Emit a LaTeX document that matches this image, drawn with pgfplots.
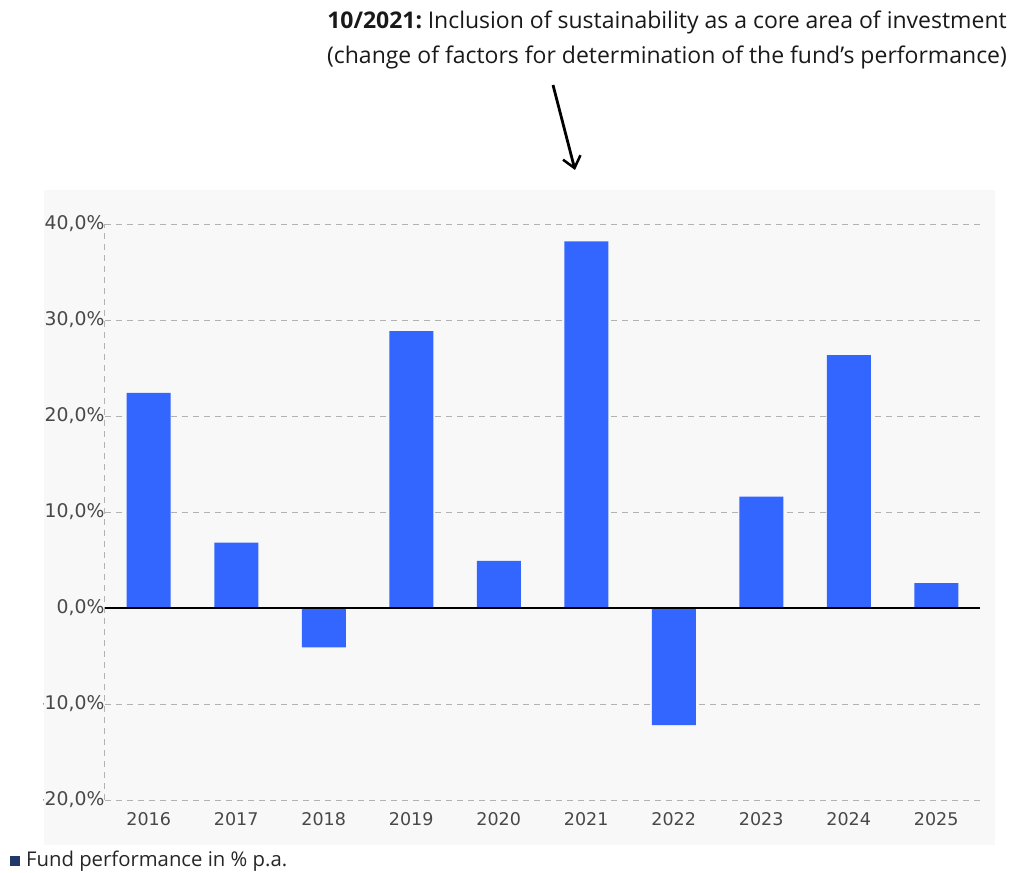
\documentclass[border=0pt]{standalone}
\usepackage{pgfplots}
\pgfplotsset{compat=1.18}
\usepackage{fontspec}
\setmainfont{Open Sans}
\newfontfamily\tickfont{DejaVu Sans}
\usetikzlibrary{arrows.meta}
\definecolor{barblue}{HTML}{3366FF}
\definecolor{bgc}{RGB}{248,248,248}
\definecolor{navy}{HTML}{1F3A68}
\definecolor{ticktext}{HTML}{484848}
\begin{document}
\begin{tikzpicture}[x=1pt,y=1pt]
\path[use as bounding box] (-105,-73) rectangle (910,800);
\fill[bgc] (-61,-45) rectangle (890,610);
\begin{scope}
\clip (-61,-45) rectangle (890,610);
\begin{axis}[
  at={(0,0)}, anchor=south west,
  scale only axis, width=875pt, height=576pt,
  xmin=-0.5, xmax=9.5, ymin=-20, ymax=40,
  ybar, bar width=44pt,
  axis line style={draw=none},
  tick style={draw=none},
  xtick={0,1,2,3,4,5,6,7,8,9},
  xticklabels={2016,2017,2018,2019,2020,2021,2022,2023,2024,2025},
  ytick={-20,-10,0,10,20,30,40},
  yticklabels={{-20,0\%},{-10,0\%},{0,0\%},{10,0\%},{20,0\%},{30,0\%},{40,0\%}},
  /pgf/number format/assume math mode=true,
  ticklabel style={font=\tickfont\fontsize{17.5}{19}\selectfont, text=ticktext},
  yticklabel style={xshift=3pt, font=\tickfont\fontsize{18.8}{20}\selectfont},
  xticklabel style={yshift=-5pt},
  clip=false,
]
\draw[gray!60, dashed, dash pattern=on 6pt off 5pt, line width=1pt] (axis cs:-0.5,40) -- (axis cs:9.5,40);
\draw[gray!60, dashed, dash pattern=on 6pt off 5pt, line width=1pt] (axis cs:-0.5,30) -- (axis cs:9.5,30);
\draw[gray!60, dashed, dash pattern=on 6pt off 5pt, line width=1pt] (axis cs:-0.5,20) -- (axis cs:9.5,20);
\draw[gray!60, dashed, dash pattern=on 6pt off 5pt, line width=1pt] (axis cs:-0.5,10) -- (axis cs:9.5,10);
\draw[gray!60, dashed, dash pattern=on 6pt off 5pt, line width=1pt] (axis cs:-0.5,-10) -- (axis cs:9.5,-10);
\draw[gray!60, dashed, dash pattern=on 6pt off 5pt, line width=1pt] (axis cs:-0.5,-20) -- (axis cs:9.5,-20);
\draw[gray!60, dashed, dash pattern=on 6pt off 5pt, line width=1pt] (axis cs:-0.5,-20) -- (axis cs:-0.5,40);
\addplot[fill=barblue, draw=none] coordinates {
(0,22.4) (1,6.8) (2,-4.1) (3,28.85) (4,4.9) (5,38.2) (6,-12.2) (7,11.6) (8,26.35) (9,2.6)};
\draw[black, line width=1.2pt] (axis cs:-0.5,0) -- (axis cs:9.5,0);
\end{axis}
\end{scope}
\node[align=center, font=\fontsize{23}{35}\selectfont, text=black!90] at (562,760)
  {\textbf{10/2021:}\hspace{-0.1em} Inclusion of sustainability as a core area of investment\\(change of factors for determination of the fund's performance)};
\draw[line width=2.8pt, -{Straight Barb[length=11pt, width=18pt, line width=2.5pt]}] (448,715) -- (470,630);
\fill[navy] (-95,-66) rectangle (-85,-56);
\node[anchor=west, font=\fontsize{20.3}{22}\selectfont, text=black!85, inner sep=0pt] at (-79,-61) {Fund performance in \% p.a.};
\end{tikzpicture}
\end{document}
